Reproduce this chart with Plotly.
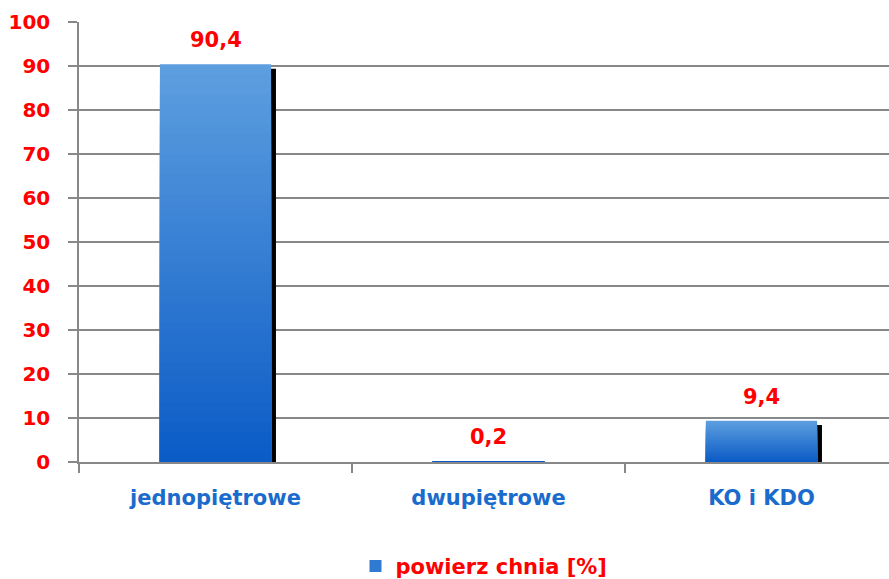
import plotly.graph_objects as go

categories = ["jednopiętrowe", "dwupiętrowe", "KO i KDO"]
values = [90.4, 0.2, 9.4]
value_labels = ["90,4", "0,2", "9,4"]
series_name = "powierz chnia [%]"
y_ticks = [0, 10, 20, 30, 40, 50, 60, 70, 80, 90, 100]

RED = "#FF0000"
BLUE_TXT = "#1B6BCC"
TOP = (0x5E, 0x9F, 0xDF)
BOT = (0x0A, 0x5B, 0xC6)
FONT = "DejaVu Sans"

N = 40
BAR_W = 0.407
BAR_OFF = -BAR_W / 2

fig = go.Figure()

# shadow on right side
fig.add_trace(go.Bar(
    x=categories, y=[max(v - 1.0, 0) for v in values],
    width=0.03, offset=BAR_W / 2 - 0.012,
    marker=dict(color="black", line=dict(width=0)),
    showlegend=False, hoverinfo="skip"))

def mix(t):
    return "rgb(%d,%d,%d)" % tuple(round(BOT[i] + (TOP[i] - BOT[i]) * t) for i in range(3))

# gradient: tallest (lightest) first, shorter darker layers on top
for k in range(N - 1, -1, -1):
    t = (k + 0.5) / N
    fig.add_trace(go.Bar(
        x=categories,
        y=[v * (k + 1) / N for v in values],
        width=BAR_W, offset=BAR_OFF,
        marker=dict(color=mix(t), line=dict(width=0)),
        showlegend=False, hoverinfo="skip"))

# legend entry
fig.add_trace(go.Bar(
    x=[categories[0]], y=[None], name=series_name,
    marker=dict(color=mix(0.45), line=dict(width=0)),
    showlegend=True))

for c, v, lab in zip(categories, values, value_labels):
    fig.add_annotation(x=c, y=v, text=lab, showarrow=False,
                       yanchor="middle", yshift=24,
                       font=dict(family=FONT, size=21, color=RED, weight="bold"))

fig.update_layout(
    width=889, height=579,
    margin=dict(l=79, r=0, t=22, b=117),
    paper_bgcolor="white", plot_bgcolor="white",
    barmode="overlay",
    showlegend=True,
    legend=dict(orientation="h", x=0.5, xanchor="center",
                yref="container", y=0.022, yanchor="middle",
                font=dict(family=FONT, size=21, color=RED, weight="bold"),
                itemwidth=30, traceorder="normal"),
    xaxis=dict(range=[-0.5, -0.5 + 810 / 273], tickson="boundaries", ticks="outside",
               ticklen=9, tickcolor="#888888", tickwidth=1.5,
               showline=True, linecolor="#888888", linewidth=2,
               showgrid=False, ticklabelstandoff=16, layer="above traces",
               tickfont=dict(family=FONT, size=21, color=BLUE_TXT, weight="bold")),
    yaxis=dict(range=[0, 100], tickvals=y_ticks, ticks="outside", ticklen=9,
               tickcolor="#888888", tickwidth=1.5,
               showline=True, linecolor="#888888", linewidth=1.5,
               showgrid=True, gridcolor="#888888", gridwidth=1.5,
               zeroline=False, ticklabelstandoff=14,
               tickfont=dict(family=FONT, size=20, color=RED, weight="bold")),
)

fig.write_html("out.html", config={"displayModeBar": False},
               post_script="document.body.style.margin='0';")
